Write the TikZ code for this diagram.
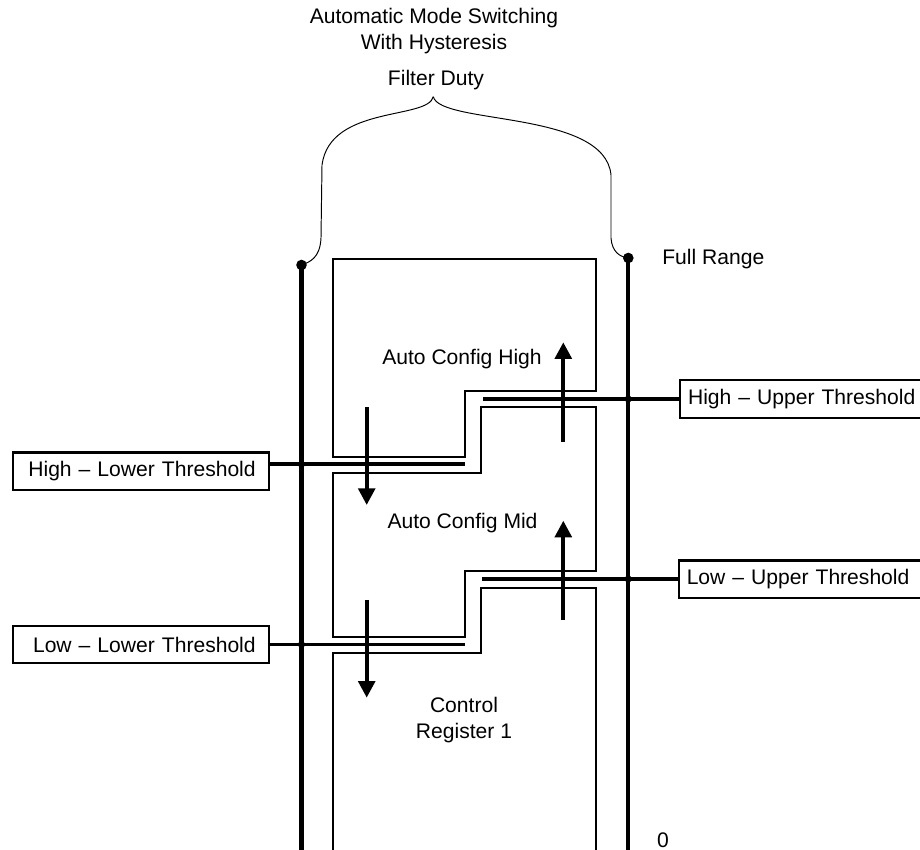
\documentclass[tikz,border=0pt]{standalone}
\usepackage{fontspec}
\setmainfont{Liberation Sans}
\usetikzlibrary{arrows.meta,positioning}

\begin{document}
\begin{tikzpicture}[x=0.02cm,y=0.02cm,font=\fontsize{12}{15.3}\selectfont,
  >={Triangle[width=9.5pt,length=9.5pt]},
  bus/.style={line width=2.3pt},
  umbral/.style={line width=2.1pt},
  zona/.style={line width=1.2pt},
  flecha/.style={->,line width=2.2pt},
  etiqueta/.style={draw,line width=1.2pt,minimum height=0.75cm,text width=4.6cm}]

\useasboundingbox (0,0) rectangle (920,849);

% Títulos
\node[anchor=base,align=center] (titulo) at (434,799)
    {Automatic Mode Switching\\With Hysteresis};
\node[anchor=base] (filtro) at (436,763.3) {Filter Duty};

% Llave
\draw[line width=0.55pt]
  (433.3,752.3)
  .. controls (428,729) and (330,744) ..
  (322,684) -- (321,611)
  .. controls (320,591) and (310,587) ..
  (301.5,584);
\draw[line width=0.55pt]
  (433.3,752.3)
  .. controls (440,724) and (605,739) ..
  (611,674) -- (611,611)
  .. controls (612,597) and (620,592) ..
  (628.3,591);

% Zonas
\draw[zona] (333,590) -- (596,590) -- (596,458) -- (465,458)
  -- (465,392) -- (333,392) -- cycle;
\draw[zona] (333,376.3) -- (481,376.3) -- (481,441.7) -- (596,441.7)
  -- (596,278) -- (465,278) -- (465,212.3) -- (333,212.3) -- cycle;
\draw[zona] (333,-10) -- (333,195.7) -- (481,195.7) -- (481,261.3)
  -- (596,261.3) -- (596,-10);

\node[anchor=base] (high) at (462,484) {Auto Config High};
\node[anchor=base] (mid) at (462.5,320) {Auto Config Mid};
\node[anchor=base,align=center] (ctrl) at (464,110) {Control\\Register 1};

% Buses
\coordinate (topL) at (301.5,584);
\coordinate (botL) at (301.5,-10);
\coordinate (topR) at (628.3,591);
\coordinate (botR) at (628.3,-10);
\draw[bus] (topL) -- (botL);
\draw[bus] (topR) -- (botR);
\fill (topL) circle (5.3);
\fill (topR) circle (5.3);

\node[anchor=base west,inner sep=0pt] (full) at (662,584) {Full Range};
\node[anchor=base west,inner sep=0pt] (cero) at (656.7,2) {0};

% Etiquetas
\node[etiqueta,inner xsep=0.26cm,align=right,anchor=west] (hl) at (11.7,377.8)
    {High -- Lower Threshold};
\node[etiqueta,inner xsep=0.26cm,align=right,anchor=west] (ll) at (11.7,204.5)
    {Low -- Lower Threshold};
\node[etiqueta,inner xsep=0.16cm,align=left,anchor=west] (hu) at (679,450)
    {High -- Upper Threshold};
\node[etiqueta,inner xsep=0.16cm,align=left,anchor=west] (lu) at (677.7,269.7)
    {Low -- Upper Threshold};

% Umbrales
\coordinate (jHL) at (301.5,384.7);
\coordinate (eHL) at (465,384.7);
\coordinate (jLL) at (301.5,204.5);
\coordinate (eLL) at (465,204.5);
\coordinate (jHU) at (628.3,450);
\coordinate (eHU) at (483,450);
\coordinate (jLU) at (628.3,270);
\coordinate (eLU) at (482,270);

\draw[umbral] (hl.east |- jHL) -- (eHL);
\draw[umbral] (ll.east |- jLL) -- (eLL);
\draw[umbral] (eHU) -- (hu.west |- jHU);
\draw[umbral] (eLU) -- (lu.west |- jLU);
\fill (jHL) circle (3.5);
\fill (jLL) circle (3.5);
\fill (jHU) circle (3.5);
\fill (jLU) circle (3.5);

% Flechas
\coordinate (d1a) at (366.7,442);
\coordinate (d1b) at (366.7,344);
\coordinate (d2a) at (366.7,249);
\coordinate (d2b) at (366.7,151.3);
\coordinate (u1a) at (563.3,407.3);
\coordinate (u1b) at (563.3,506.7);
\coordinate (u2a) at (563.3,229);
\coordinate (u2b) at (563.3,328.3);

\draw[flecha] (d1a) -- (d1b);
\draw[flecha] (d2a) -- (d2b);
\draw[flecha] (u1a) -- (u1b);
\draw[flecha] (u2a) -- (u2b);

\end{tikzpicture}
\end{document}
